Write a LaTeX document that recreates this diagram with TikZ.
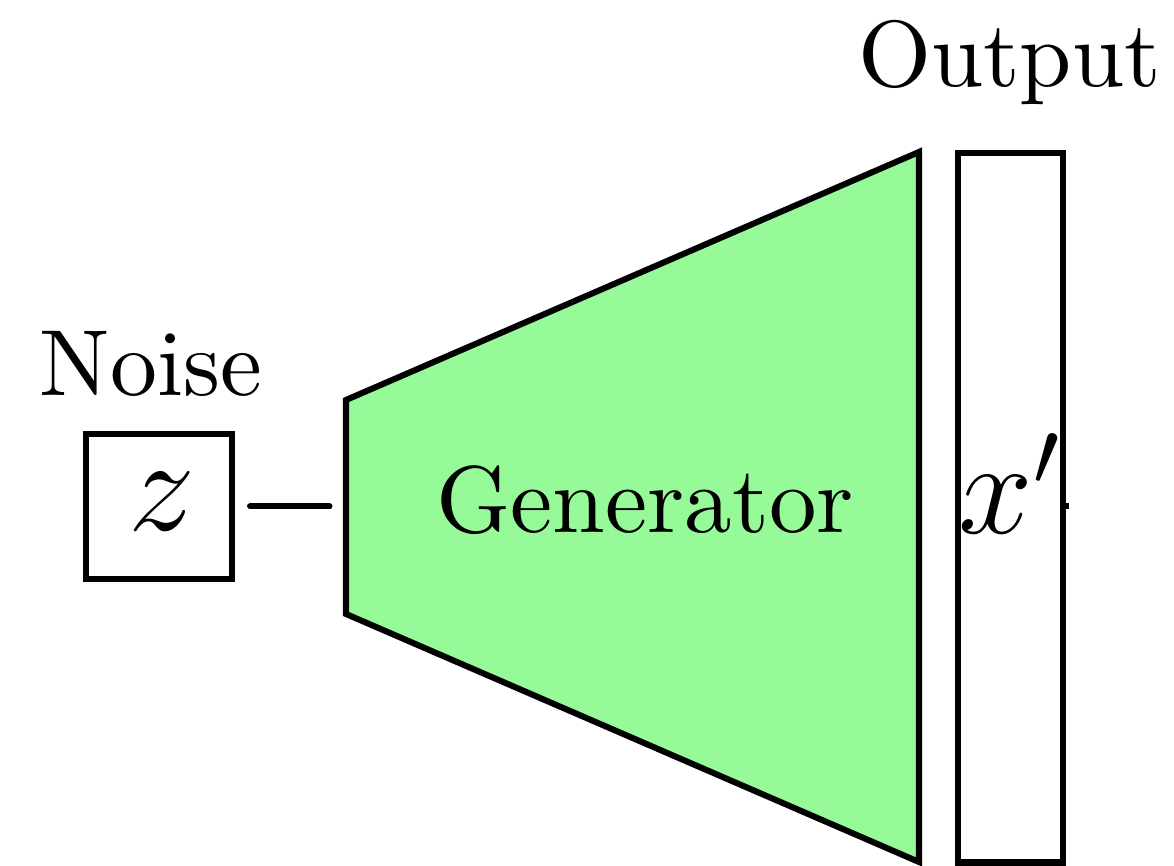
\documentclass[tikz,border=0pt]{standalone}
\definecolor{genfill}{RGB}{150,250,152}
\tikzset{
  px/.style={x=0.10753pt, y=-0.10753pt},
  frame/.style={draw=black, line width=0.65pt, line join=miter},
  boxnode/.style={frame, inner sep=0pt, outer sep=0pt},
  link/.style={draw=black, line width=0.65pt, line cap=round},
  stub/.style={draw=black, line width=0.65pt},
  caption/.style={inner sep=0pt, anchor=base},
  sym/.style={font=\fontsize{13.6}{16}\selectfont, inner sep=0pt, anchor=base},
}
\begin{document}
\begin{tikzpicture}[px]
  \useasboundingbox (0,0) rectangle (1174,866);

  % noise input
  \node[boxnode, minimum width=15.6pt, minimum height=15.6pt] (zbox) at (159,506.5) {};
  \node[sym] (zlbl) at (162,531) {$z$};
  \node[caption, font=\fontsize{10.1}{12}\selectfont] (noise) at (151,396) {Noise};

  % generator trapezoid
  \coordinate (gTL) at (346,400);
  \coordinate (gTR) at (919,152);
  \coordinate (gBR) at (919,862);
  \coordinate (gBL) at (346,614);
  \coordinate (gW) at (346,506.5);
  \draw[frame, fill=genfill] (gTL) -- (gTR) -- (gBR) -- (gBL) -- cycle;
  \node[caption, font=\fontsize{10.2}{12}\selectfont] (gen) at (645,533) {Generator};

  % output sample
  \node[boxnode, minimum width=11.35pt, minimum height=76.3pt] (xout) at (1010.5,507.75) {};
  \node[sym] (xlbl) at (1011,534) {$x'$};
  \node[caption, font=\fontsize{10.1}{12}\selectfont] (output) at (1009.5,87) {Output};
  \coordinate (tail) at (1069,506.5);

  % connectors
  \draw[link, shorten <=1.99pt, shorten >=1.77pt] (zbox.east) -- (zbox.east -| gW);
  \draw[stub] (xout.east |- tail) -- (tail);
\end{tikzpicture}
\end{document}
